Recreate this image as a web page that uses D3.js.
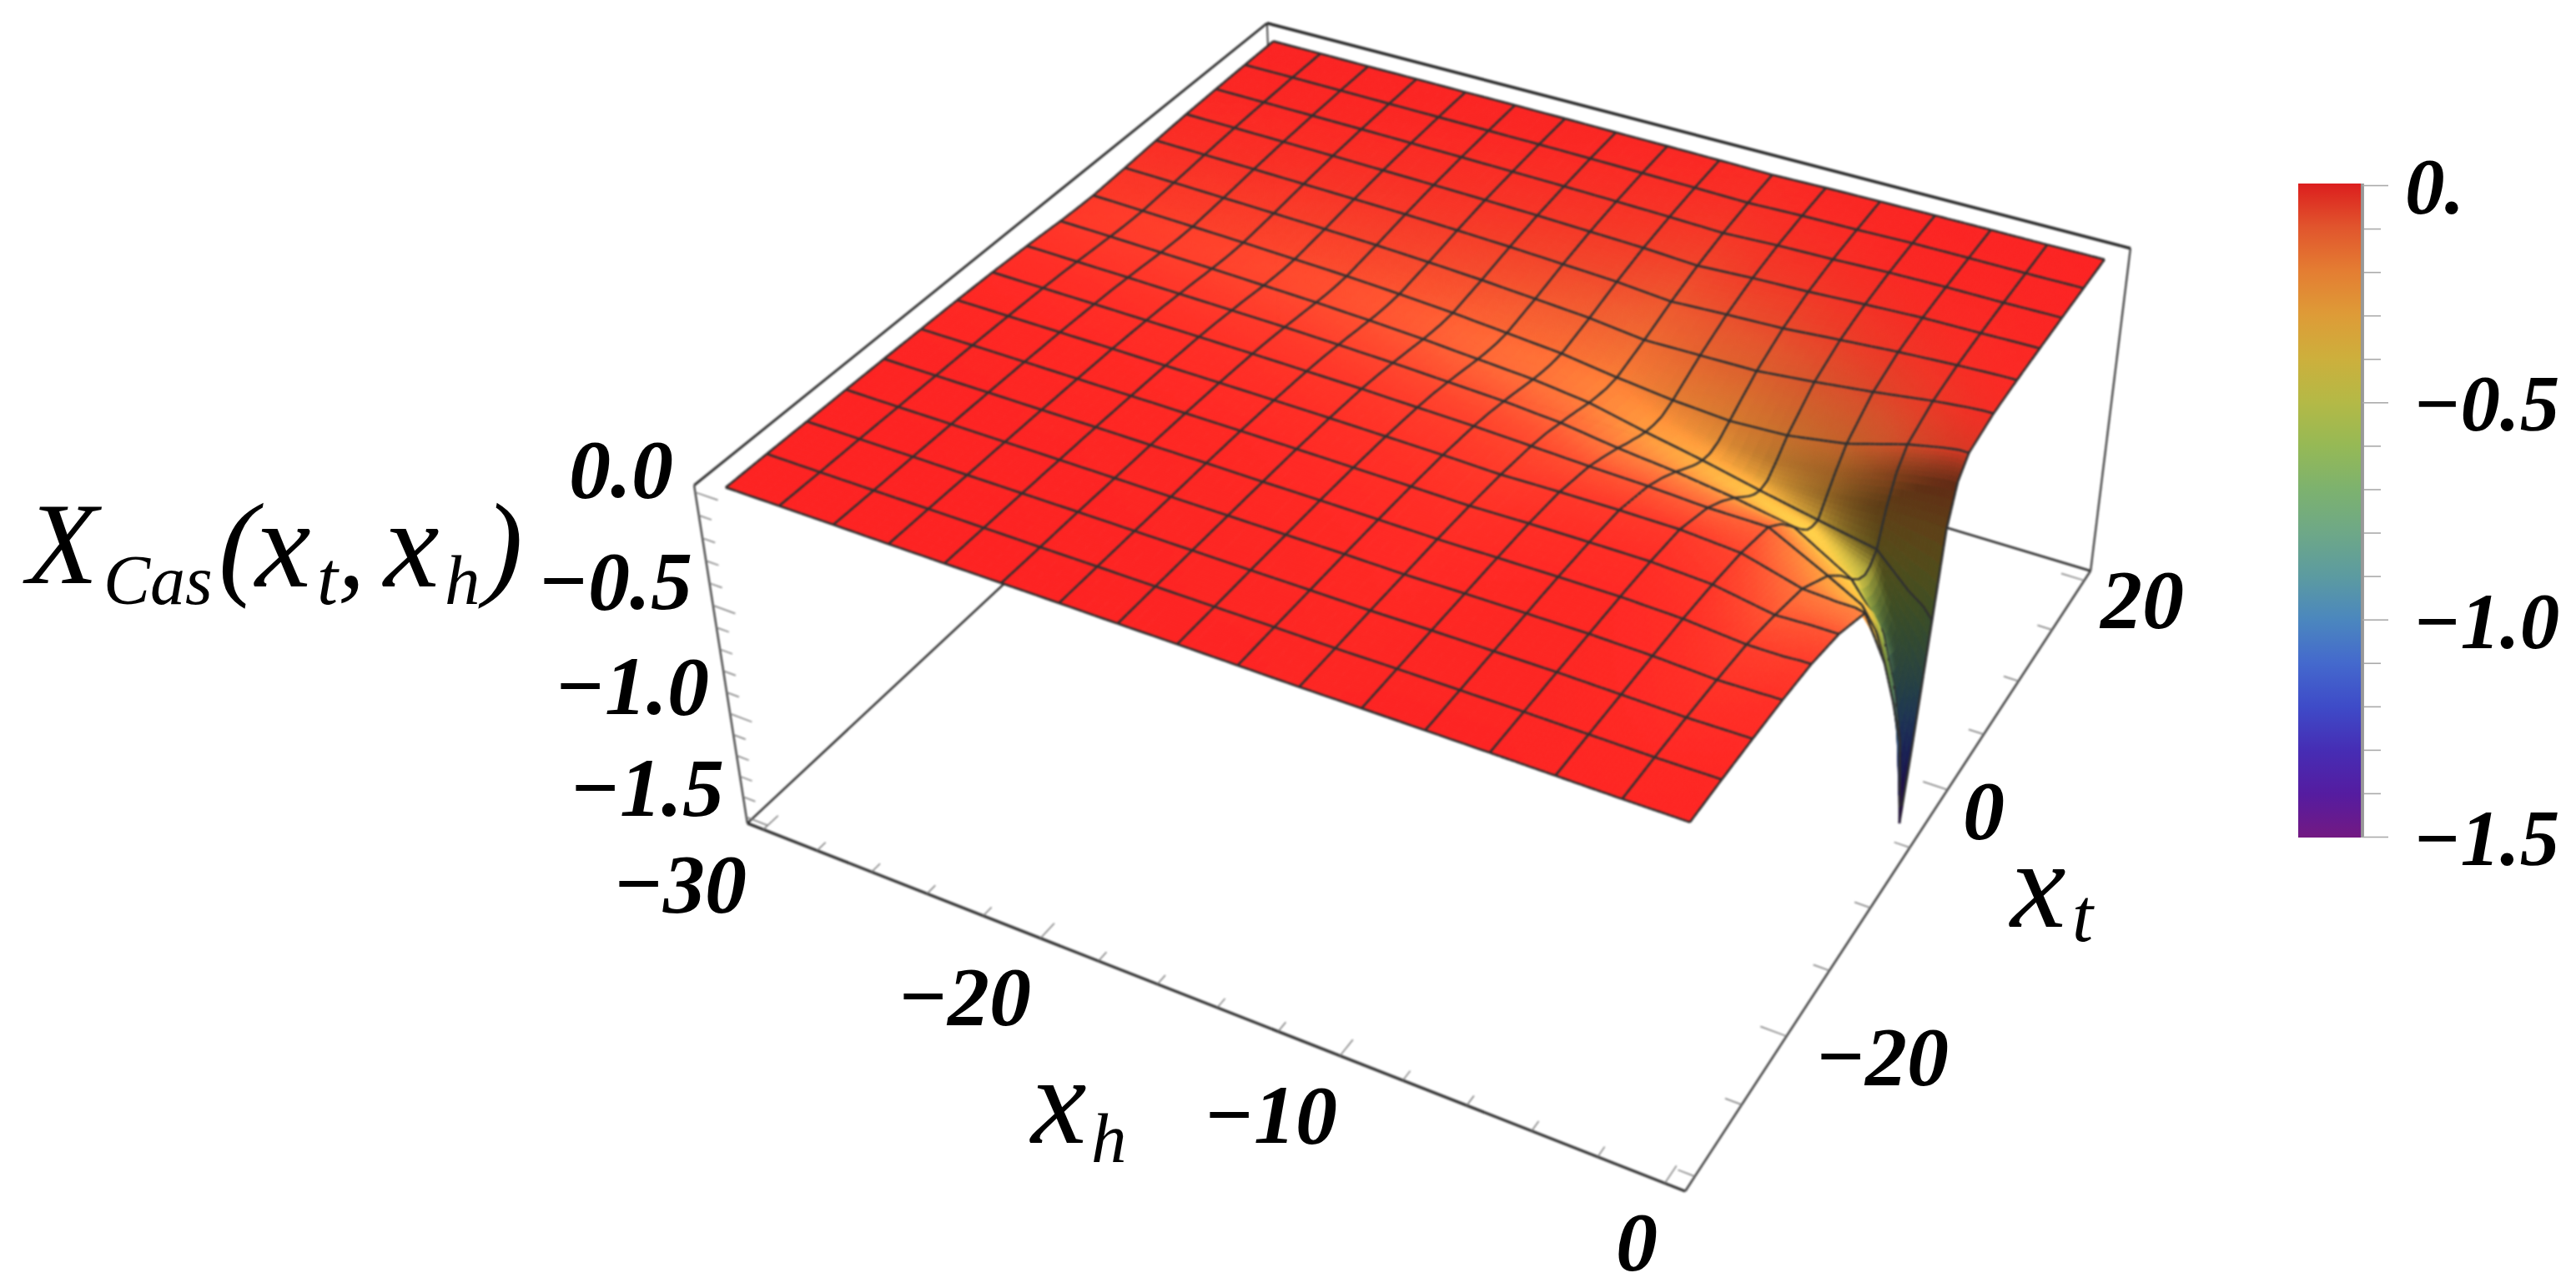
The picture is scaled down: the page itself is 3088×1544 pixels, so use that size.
<!DOCTYPE html>
<html><head><meta charset="utf-8">
<script src="https://cdn.jsdelivr.net/npm/d3@7"></script>
<style>html,body{margin:0;background:#fff}svg{display:block}text{font-family:"Liberation Serif",serif;font-style:italic;fill:#000}</style>
</head><body><svg id="c" width="3088" height="1544"></svg>
<script>
// ---- data ----
const xhNodes=[0,-0.3,-0.8,-1.875,-3.75,-5.625,-7.5,-9.375,-11.25,-13.125,-15,-16.875,-18.75,-20.625,-22.5,-24.375,-26.25,-28.125,-30];
const xtNodes=[-30,-26.875,-23.75,-20.625,-17.5,-14.375,-11.25,-8.125,-6.5,-5,-4,-3.2,-2.6,-1.875,-1,0,1.25,4.375,7.5,10.625,13.75,16.875,20];
const extraXh=[-0.3,-0.8];
const extraXt=[-6.5,-4,-3.2,-2.6,-1,0];
const zRow0=[-.005,-.007,-.012,-.02,-.035,-.07,-.14,-.52,-.78,-1.05,-1.5,-1.2,-.95,-.65,-.28,-.12,-.05,-.02,-.012,-.008,-.005,-.003,-.002];
const zRow1=[-.005,-.007,-.012,-.02,-.035,-.07,-.13,-.40,-.60,-.82,-1.1,-1.0,-.85,-.6,-.27,-.12,-.05,-.02,-.012,-.008,-.005,-.003,-.002];
const zRow2=[-.005,-.008,-.013,-.022,-.04,-.07,-.13,-.30,-.42,-.58,-.74,-.76,-.72,-.55,-.27,-.13,-.06,-.025,-.014,-.009,-.006,-.004,-.002];
const zRow3=[-.006,-.009,-.015,-.025,-.04,-.075,-.12,-.22,-.30,-.39,-.44,-.46,-.45,-.41,-.27,-.16,-.09,-.04,-.02,-.012,-.008,-.005,-.003];
const zRow4=[-.005,-.007,-.01,-.013,-.018,-.03,-.05,-.09,-.155,-.24,-.30,-.34,-.355,-.36,-.30,-.235,-.165,-.075,-.034,-.015,-.008,-.005,-.003];
const zRow5=[-.004,-.005,-.006,-.008,-.01,-.016,-.031,-.087,-.136,-.192,-.236,-.27,-.291,-.307,-.304,-.264,-.205,-.105,-.053,-.026,-.012,-.006,-.004];
const zRow6=[-.004,-.005,-.0065,-.008,-.01,-.016,-.029,-.073,-.112,-.156,-.19,-.216,-.234,-.25,-.26,-.25,-.216,-.13,-.073,-.039,-.021,-.012,-.0065];
const zRow7=[-.004,-.005,-.006,-.009,-.012,-.017,-.03,-.065,-.097,-.129,-.155,-.172,-.187,-.2,-.211,-.215,-.198,-.133,-.082,-.047,-.026,-.015,-.009];
const zRow8=[-.005,-.007,-.0085,-.012,-.015,-.022,-.034,-.054,-.071,-.094,-.109,-.122,-.133,-.145,-.156,-.167,-.17,-.136,-.094,-.06,-.037,-.022,-.014];
const zRow9=[-.004,-.005,-.007,-.009,-.012,-.018,-.027,-.043,-.057,-.074,-.086,-.097,-.105,-.115,-.124,-.132,-.135,-.108,-.074,-.047,-.03,-.018,-.011];
const zRow10=[-.003,-.005,-.006,-.008,-.01,-.015,-.023,-.037,-.048,-.063,-.074,-.083,-.09,-.098,-.106,-.113,-.115,-.092,-.063,-.04,-.025,-.015,-.009];
const zRow11=[-.003,-.004,-.005,-.007,-.009,-.012,-.019,-.03,-.04,-.052,-.061,-.068,-.074,-.081,-.087,-.093,-.095,-.076,-.052,-.033,-.021,-.012,-.008];
const zRow12=[-.002,-.003,-.004,-.006,-.007,-.01,-.016,-.026,-.034,-.044,-.051,-.058,-.062,-.068,-.074,-.078,-.08,-.064,-.044,-.028,-.018,-.01,-.006];
const zRow13=[-.002,-.003,-.003,-.005,-.006,-.009,-.014,-.022,-.029,-.037,-.044,-.049,-.053,-.058,-.063,-.067,-.068,-.054,-.037,-.024,-.015,-.009,-.005];
const zRow14=[-.002,-.002,-.003,-.004,-.005,-.008,-.012,-.019,-.025,-.033,-.038,-.043,-.047,-.051,-.055,-.059,-.06,-.048,-.033,-.021,-.013,-.008,-.005];
const zRow15=[-.002,-.002,-.003,-.004,-.005,-.007,-.01,-.017,-.022,-.029,-.033,-.037,-.041,-.044,-.048,-.051,-.052,-.042,-.029,-.018,-.011,-.007,-.004];
const zRow16=[-.001,-.002,-.002,-.003,-.004,-.006,-.009,-.015,-.019,-.025,-.029,-.033,-.036,-.039,-.042,-.045,-.046,-.037,-.025,-.016,-.01,-.006,-.004];
const zRow17=[-.001,-.002,-.002,-.003,-.004,-.005,-.008,-.013,-.017,-.022,-.026,-.029,-.031,-.034,-.037,-.039,-.04,-.032,-.022,-.014,-.009,-.005,-.003];
const zRow18=[-.001,-.001,-.002,-.002,-.003,-.005,-.007,-.011,-.015,-.019,-.022,-.025,-.027,-.03,-.032,-.034,-.035,-.028,-.019,-.012,-.008,-.005,-.003];
const zTable=[zRow0,zRow1,zRow2,zRow3,zRow4,zRow5,zRow6,zRow7,zRow8,zRow9,zRow10,zRow11,zRow12,zRow13,zRow14,zRow15,zRow16,zRow17,zRow18];
const colorValues=[0,-.1,-.2,-.3,-.4,-.5,-.6,-.7,-.8,-.9,-1,-1.1,-1.2,-1.3,-1.4,-1.5];
const colorNames=["rgb(220,30,30)","rgb(225,85,45)","rgb(228,125,50)","rgb(222,155,55)","rgb(205,175,60)","rgb(180,185,70)","rgb(150,185,85)","rgb(125,178,110)","rgb(110,168,135)","rgb(92,155,160)","rgb(75,135,190)","rgb(68,105,205)","rgb(62,75,200)","rgb(70,45,180)","rgb(85,28,160)","rgb(115,25,130)"];
const zMajor=[0,-.5,-1,-1.5];
const zMinor=[-.1,-.2,-.3,-.4,-.6,-.7,-.8,-.9,-1.1,-1.2,-1.3,-1.4];
const xhMajor=[-30,-20,-10,0];
const xhMinor=[-28,-26,-24,-22,-18,-16,-14,-12,-8,-6,-4,-2];
const xtMajor=[-20,0,20];
const xtMinor=[-30,-25,-15,-10,-5,5,10,15];
const labelTexts=[["0.0",807,596],["\u22120.5",830,730],["\u22121.0",850,856],["\u22121.5",868,978],["\u221230",895,1093],["\u221220",1236,1228],["\u221210",1603,1370],["0",1987,1522],["0",2403,1005],["\u221220",2336,1300],["20",2618,752]];
const barLabels=[["0.",0],["\u22120.5",-.5],["\u22121.0",-1],["\u22121.5",-1.5]];

// ---- scales and camera ----
const svg=d3.select("#c");
const sx=d3.scaleLinear().domain([-30.6,0.6]).range([0,1]);
const sy=d3.scaleLinear().domain([-31,21]).range([0,1]);
const sz=d3.scaleLinear().domain([-1.53,0.03]).range([0,1]);
const calib=[
 [-30.6,-31,.03,832,580],[-30.6,21,.03,1520,27],[.6,21,.03,2556,298],
 [-30.6,-31,-1.53,896,988],[.6,-31,-1.53,2019,1427],[.6,21,-1.53,2507,684],
 [-30,-30,0,870,584],[-30,20,0,1525,50],[0,20,0,2520,310],[0,-30,0,2027,986]];
function solve(A,b){const n=b.length;A=A.map((r,i)=>[...r,b[i]]);
 for(let c=0;c<n;c++){let p=c;for(let r=c+1;r<n;r++)if(Math.abs(A[r][c])>Math.abs(A[p][c]))p=r;[A[c],A[p]]=[A[p],A[c]];
  for(let r=0;r<n;r++)if(r!==c){const f=A[r][c]/A[c][c];for(let k=c;k<=n;k++)A[r][k]-=f*A[c][k];}}
 return A.map((r,i)=>r[n]/r[i]);}
const P=(()=>{const rows=[],rhs=[];
 calib.forEach(([h,t,z,px,py])=>{const u=sx(h),v=sy(t),w=sz(z),X=px/1000,Y=py/1000;
  rows.push([u,v,w,1,0,0,0,0,-X*u,-X*v,-X*w]);rhs.push(X);
  rows.push([0,0,0,0,u,v,w,1,-Y*u,-Y*v,-Y*w]);rhs.push(Y);});
 const n=11,AtA=d3.range(n).map(a=>d3.range(n).map(b=>d3.sum(rows,r=>r[a]*r[b]))),Atb=d3.range(n).map(a=>d3.sum(rows,(r,i)=>r[a]*rhs[i]));
 return solve(AtA,Atb);})();
function proj(h,t,z){const u=sx(h),v=sy(t),w=sz(z),d=P[8]*u+P[9]*v+P[10]*w+1;
 return {x:1000*(P[0]*u+P[1]*v+P[2]*w+P[3])/d,y:1000*(P[4]*u+P[5]*v+P[6]*w+P[7])/d,d};}
const line=d3.line().x(p=>p.x).y(p=>p.y);
const color=d3.scaleLinear().domain(colorValues).range(colorNames).interpolate(d3.interpolateRgb).clamp(true);

// ---- surface sampling ----
const grad=(a,i,get)=>{const lo=Math.max(0,i-1),hi=Math.min(a.length-1,i+1);return (get(hi)-get(lo))/(a[hi]-a[lo]);};
const nodeN=zTable.map((row,i)=>row.map((z,j)=>[
  grad(xhNodes,i,k=>zTable[k][j])*30/4,
  grad(xtNodes,j,k=>row[k])*50/4]));
function fine(nodes,near,lo,hi){const out=[];for(let i=0;i<nodes.length-1;i++){
  const mid=(nodes[i]+nodes[i+1])/2,step=(mid>=lo&&mid<=hi)?near:0.42;
  const k=Math.max(3,Math.ceil(Math.abs(nodes[i+1]-nodes[i])/step));
  for(let s=0;s<k;s++)out.push({i,t:s/k,v:nodes[i]+(nodes[i+1]-nodes[i])*s/k,node:s===0?nodes[i]:null});}
 out.push({i:nodes.length-2,t:1,v:nodes[nodes.length-1],node:nodes[nodes.length-1]});return out;}
const fH=fine(xhNodes,0.15,-6,0),fT=fine(xtNodes,0.2,-9,6);
function bil(get,a,b){const i=a.i,j=b.i;return (1-a.t)*((1-b.t)*get(i,j)+b.t*get(i,j+1))+a.t*((1-b.t)*get(i+1,j)+b.t*get(i+1,j+1));}
const zF=fH.map(a=>fT.map(b=>bil((i,j)=>zTable[i][j],a,b)));
const nF=fH.map(a=>fT.map(b=>[bil((i,j)=>nodeN[i][j][0],a,b),bil((i,j)=>nodeN[i][j][1],a,b)]));
const pF=fH.map((a,ia)=>fT.map((b,ib)=>proj(a.v,b.v,zF[ia][ib])));
const light={a:.55,y:.55,z:.60,edge:.7,penalty:1.2};
function shade(n){const m=Math.hypot(n[0],n[1],1),nx=-n[0]/m,ny=-n[1]/m,nz=1/m;
 return Math.max(.42,Math.min(1.45,light.a+light.y*ny+light.z*nz-light.penalty*Math.max(0,nx-light.edge)));}
const items=[];
for(let a=0;a<fH.length-1;a++)for(let b=0;b<fT.length-1;b++){
 const q=[pF[a][b],pF[a+1][b],pF[a+1][b+1],pF[a][b+1]];
 const z=(zF[a][b]+zF[a+1][b]+zF[a][b+1]+zF[a+1][b+1])/4;
 const n=[0,1].map(k=>(nF[a][b][k]+nF[a+1][b][k]+nF[a][b+1][k]+nF[a+1][b+1][k])/4);
 const c=d3.rgb(color(z)),k=shade(n);
 const fill=`rgb(${Math.min(255,c.r*k)|0},${Math.min(255,c.g*k)|0},${Math.min(255,c.b*k)|0})`;
 items.push({d:d3.mean(q,p=>p.d),path:line(q)+"Z",fill});
}
const bias=0.0025;
fH.forEach((a,ia)=>{if(a.node===null||extraXh.includes(a.node))return;
 for(let b=0;b<fT.length-1;b++){const s=[pF[ia][b],pF[ia][b+1]];items.push({d:d3.mean(s,p=>p.d)-bias,path:line(s)});}});
fT.forEach((b,ib)=>{if(b.node===null||extraXt.includes(b.node))return;
 for(let a=0;a<fH.length-1;a++){const s=[pF[a][ib],pF[a+1][ib]];items.push({d:d3.mean(s,p=>p.d)-bias,path:line(s)});}});
items.sort((p,q)=>q.d-p.d);

// ---- drawing ----
const root=svg.append("g");
const art=root.append("g").style("filter","blur(0.8px)");
const seg=(g,a,b,w,col)=>g.append("path").attr("d",line([proj(...a),proj(...b)])).attr("fill","none").attr("stroke",col).attr("stroke-width",w);
const [h0,h1]=sx.domain(),[t0,t1]=sy.domain(),[z0,z1]=sz.domain();
const back=art.append("g");
seg(back,[h0,t0,z0],[h0,t1,z0],2.6,"#333");
seg(back,[h0,t1,z0],[h1,t1,z0],2.8,"#333");
seg(back,[h0,t1,z0],[h0,t1,z1],2,"#444");
seg(back,[h0,t0,z1],[h0,t1,z1],3,"#333");
seg(back,[h0,t1,z1],[h1,t1,z1],3.6,"#2a2a2a");
seg(back,[h0,t0,z1],[h0,t0,z0],2.4,"#444");
seg(back,[h1,t1,z1],[h1,t1,z0],2.4,"#444");
seg(back,[h0,t0,z0],[h1,t0,z0],3.4,"#333");
seg(back,[h1,t0,z0],[h1,t1,z0],2.6,"#444");
const tk=art.append("g");
zMajor.forEach(z=>seg(tk,[h0,t0,z],[h0+.8,t0,z],1.5,"#777"));
zMinor.forEach(z=>seg(tk,[h0,t0,z],[h0+.45,t0,z],1.5,"#777"));
xhMajor.forEach(h=>seg(tk,[h,t0,z0],[h,t0+1.2,z0],1.5,"#777"));
xhMinor.forEach(h=>seg(tk,[h,t0,z0],[h,t0+.7,z0],1.5,"#777"));
xtMajor.forEach(t=>seg(tk,[h1,t,z0],[h1-.8,t,z0],1.5,"#777"));
xtMinor.forEach(t=>seg(tk,[h1,t,z0],[h1-.5,t,z0],1.5,"#777"));
const surf=art.append("g").attr("stroke-linejoin","round");
surf.selectAll("path").data(items).join("path")
 .attr("d",d=>d.path)
 .attr("fill",d=>d.fill||"none")
 .attr("stroke",d=>d.fill||"#303030")
 .attr("stroke-width",d=>d.fill?0.9:2.7);

// ---- tick labels ----
root.append("g").selectAll("text").data(labelTexts).join("text")
 .attr("x",d=>d[1]).attr("y",d=>d[2]).attr("text-anchor","end")
 .attr("font-size",100).attr("font-weight","bold").text(d=>d[0]);

// ---- axis labels ----
const mainLabels=[["X",32,699,140],["Cas",124,724,84],["(",262,700,140],["x",306,703,150],["t",380,724,90],[",",405,703,130],["x",460,703,150],["h",533,724,85],[")",580,700,140],
 ["x",1236,1370,150],["h",1308,1393,85],["x",2410,1111,150],["t",2484,1128,90]];
root.append("g").selectAll("text").data(mainLabels).join("text")
 .attr("x",d=>d[1]).attr("y",d=>d[2]).attr("font-size",d=>d[3]).text(d=>d[0]);

// ---- colour bar ----
const barY=d3.scaleLinear().domain([0,-1.5]).range([222,1003]);
const defs=svg.append("defs");
const lg=defs.append("linearGradient").attr("id","bar").attr("x1",0).attr("x2",0).attr("y1",0).attr("y2",1);
colorValues.forEach((v,i)=>lg.append("stop").attr("offset",(barY(v)-barY(0))/(barY(-1.5)-barY(0))).attr("stop-color",colorNames[i]));
const bar=root.append("g").style("filter","blur(0.7px)");
bar.append("rect").attr("x",2755).attr("y",220).attr("width",77).attr("height",784).attr("fill","url(#bar)");
const axMinor=d3.axisRight(barY).tickValues(zMinor).tickSize(22).tickFormat("");
const axMajor=d3.axisRight(barY).tickValues(zMajor).tickSize(31).tickFormat("");
[axMinor,axMajor].forEach(ax=>{const g=bar.append("g").attr("transform","translate(2832,0)").call(ax);
 g.selectAll("line").attr("stroke","#aaa").attr("stroke-width",1.6);
 g.select(".domain").attr("stroke","#999").attr("stroke-width",3.5).attr("d","M0,220V1004");});
root.append("g").selectAll("text").data(barLabels).join("text")
 .attr("x",d=>d[1]===0?2883:2892).attr("y",d=>barY(d[1])+34)
 .attr("font-size",95).attr("font-weight","bold").text(d=>d[0]);
</script></body></html>
